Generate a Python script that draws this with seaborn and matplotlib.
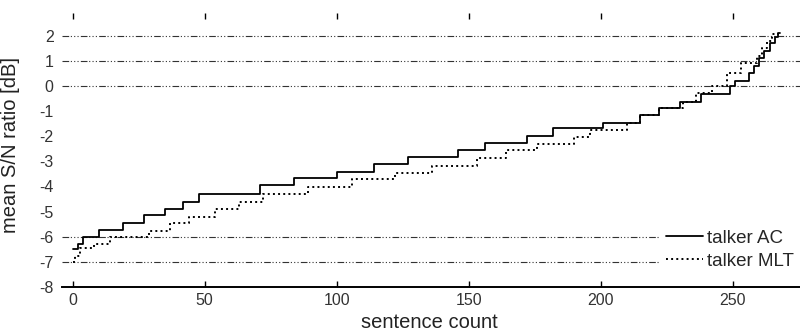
import pandas as pd
import matplotlib
matplotlib.use("Agg")
import matplotlib.pyplot as plt
import seaborn as sns

# step curves: sentence index where a new level starts, and the level (dB)
ac_count = [0, 2, 4, 10, 19, 27, 35, 42, 48, 71, 84, 100, 114, 127, 146, 156,
            172, 182, 201, 215, 222, 230, 238, 249, 251, 256, 258, 260, 262,
            264, 266, 267, 268]
ac_snr = [-6.5, -6.3, -6.0, -5.74, -5.44, -5.14, -4.88, -4.6, -4.28, -3.96,
          -3.68, -3.44, -3.1, -2.82, -2.54, -2.28, -1.98, -1.68, -1.46, -1.14,
          -0.88, -0.64, -0.32, 0.0, 0.2, 0.5, 0.8, 1.1, 1.4, 1.7, 1.95, 2.1, 2.1]

mlt_count = [0, 1, 3, 8, 14, 29, 37, 44, 54, 63, 72, 89, 106, 122, 136, 153,
             164, 176, 190, 196, 210, 215, 222, 231, 236, 242, 248, 253, 259,
             261, 263, 265, 267]
mlt_snr = [-7.0, -6.75, -6.45, -6.28, -6.0, -5.76, -5.44, -5.2, -4.88, -4.6,
           -4.28, -4.04, -3.72, -3.46, -3.18, -2.86, -2.56, -2.3, -2.04, -1.74,
           -1.46, -1.14, -0.88, -0.64, -0.3, 0.0, 0.52, 0.9, 1.2, 1.5, 1.8,
           2.05, 2.1]

x_ticks = [0, 50, 100, 150, 200, 250]
y_ticks = [-8, -7, -6, -5, -4, -3, -2, -1, 0, 1, 2]
grid_levels = [2, 1, 0, -6, -7]

sns.set_style("white")
plt.rcParams["font.family"] = ["Liberation Sans", "DejaVu Sans"]

fig = plt.figure(figsize=(8, 3.33), dpi=100)
ax = fig.add_axes([0.0775, 0.138, 0.954, 0.823])

grid_style = (0, (6, 1.5, 1, 2, 1, 2, 1, 2))
for lvl in grid_levels:
    ax.axhline(lvl, color="#333333", lw=0.8, linestyle=grid_style, zorder=1)

ac = pd.DataFrame({"count": ac_count, "snr": ac_snr})
mlt = pd.DataFrame({"count": mlt_count, "snr": mlt_snr})

sns.lineplot(data=ac, x="count", y="snr", drawstyle="steps-post",
             color="black", lw=1.3, label="talker AC", ax=ax, zorder=3)
sns.lineplot(data=mlt, x="count", y="snr", drawstyle="steps-post",
             color="black", lw=1.4, linestyle=":", label="talker MLT",
             ax=ax, zorder=3)

ax.set_xlim(-4, 285)
ax.set_ylim(-8, 2.9)
ax.set_xticks(x_ticks)
ax.set_yticks(y_ticks)
ax.set_yticklabels([str(v) for v in y_ticks])

for side in ["left", "right", "top"]:
    ax.spines[side].set_visible(False)
ax.spines["bottom"].set_color("black")
ax.spines["bottom"].set_linewidth(1.4)

ax.tick_params(axis="x", direction="in", top=True, bottom=True, length=4,
               width=1, labelsize=11.5, pad=4, colors="black",
               labelcolor="#333333")
ax.tick_params(axis="y", length=0, labelsize=11.5, pad=6,
               labelcolor="#333333")

ax.set_xlabel("sentence count", fontsize=14.5, color="#222222")
ax.set_ylabel("mean S/N ratio [dB]", fontsize=14.5, color="#222222")
ax.xaxis.set_label_coords(0.481, -0.095)
ax.yaxis.set_label_coords(-0.055, 0.518)

leg = ax.legend(loc="center left", bbox_to_anchor=(219, -6.52),
                bbox_transform=ax.transData, fontsize=13.5, frameon=True,
                fancybox=False, edgecolor="white", facecolor="white",
                framealpha=1, borderpad=0.3, handlelength=2.0,
                handletextpad=0.2, labelspacing=0.33)
leg.set_zorder(5)

fig.savefig("out.png", dpi=100)
